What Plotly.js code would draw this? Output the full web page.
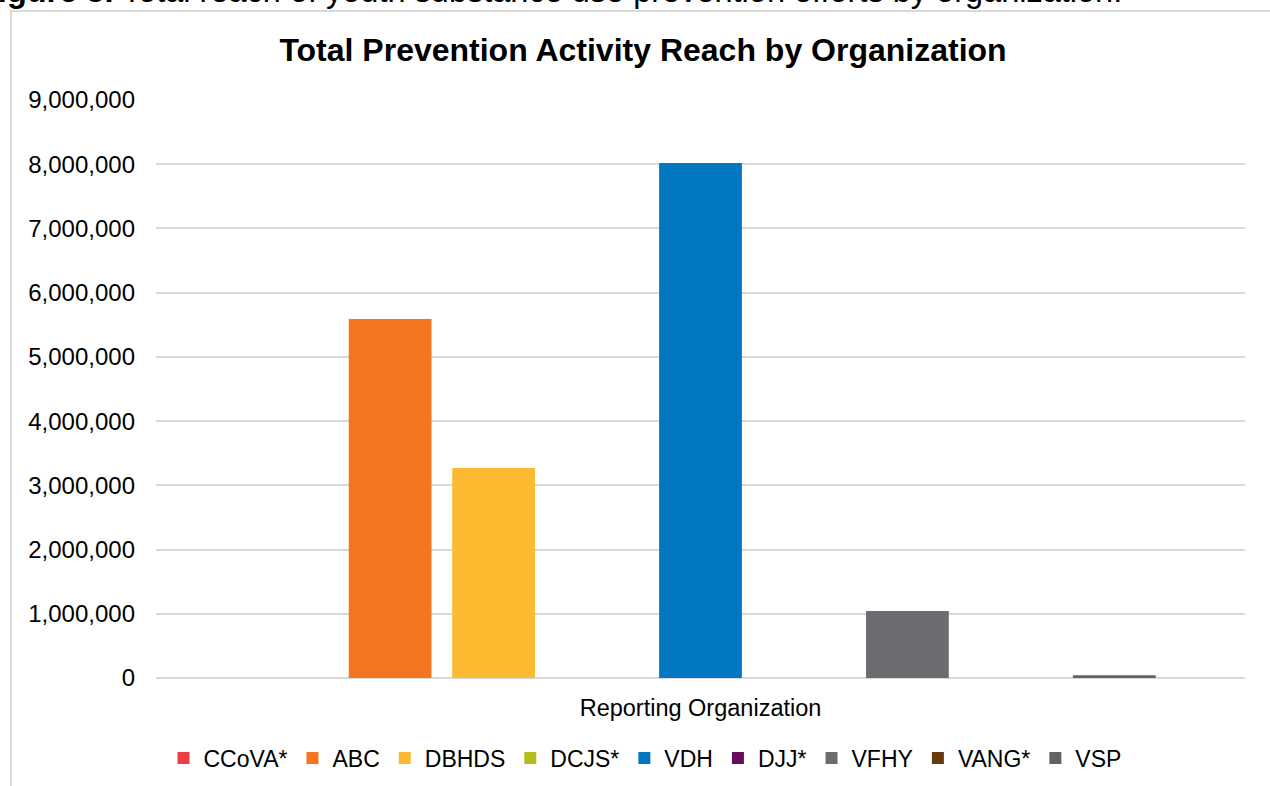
<!DOCTYPE html>
<html>
<head>
<meta charset="utf-8">
<script src="https://cdn.plot.ly/plotly-3.0.1.min.js"></script>
<style>html,body{margin:0;padding:0;background:#fff;}#chart{width:1270px;height:786px;}</style>
</head>
<body>
<div id="chart"></div>
<script>
const category = ["Reporting Organization"];
const organizations = ["CCoVA*", "ABC", "DBHDS", "DCJS*", "VDH", "DJJ*", "VFHY", "VANG*", "VSP"];
const reach = [0, 5590000, 3270000, 0, 8020000, 0, 1045000, 0, 42000];
const colors = ["#EE3E44", "#F47622", "#FDBA31", "#B2BC1B", "#0077C0", "#660E5E", "#6C6C70", "#653A0D", "#636363"];
const yTicks = [0, 1000000, 2000000, 3000000, 4000000, 5000000, 6000000, 7000000, 8000000, 9000000];

const FONT = "Liberation Sans, Arial, sans-serif";
const traces = organizations.map((name, i) => ({
  type: "bar",
  name: name,
  x: category,
  y: [reach[i]],
  marker: {color: colors[i]},
  hoverinfo: "name+y"
}));

const L = 156, R = 1245, T = 100, B = 678;
const W = R - L, H = B - T;
const px = x => (x - L) / W;
const py = y => (B - y) / H;

const layout = {
  width: 1270, height: 786,
  margin: {l: L, r: 1270 - R, t: T, b: 786 - B, pad: 0},
  paper_bgcolor: "#ffffff", plot_bgcolor: "#ffffff",
  font: {family: FONT, color: "#000000", size: 24},
  barmode: "group",
  bargap: 0.145,
  bargroupgap: 0.2,
  title: {
    text: "<b>Total Prevention Activity Reach by Organization</b>",
    font: {family: FONT, size: 32, color: "#000000"},
    x: 643 / 1270, xanchor: "center", xref: "container",
    y: 1 - 50 / 786, yanchor: "middle", yref: "container"
  },
  xaxis: {
    type: "category",
    showgrid: false, zeroline: false, showline: false,
    ticks: "", ticklabelstandoff: 13,
    tickfont: {family: FONT, size: 23.5, color: "#000000"}
  },
  yaxis: {
    range: [0, 9000000],
    tickvals: yTicks,
    tickformat: ",d",
    showgrid: true, gridcolor: "#d9d9d9", gridwidth: 2,
    zeroline: true, zerolinecolor: "#d9d9d9", zerolinewidth: 2,
    showline: false, ticks: "", ticklabelstandoff: 20,
    tickfont: {family: FONT, size: 24, color: "#000000"}
  },
  showlegend: true,
  legend: {
    orientation: "h",
    xref: "container", yref: "container",
    x: 645 / 1270, xanchor: "center",
    y: 1 - 758 / 786, yanchor: "middle",
    font: {family: FONT, size: 23, color: "#000000"},
    itemwidth: 30,
    traceorder: "normal"
  },
  shapes: [
    {type: "line", xref: "paper", yref: "paper", x0: px(11), x1: px(11), y0: py(10), y1: py(790), line: {color: "#d9d9d9", width: 2}},
    {type: "line", xref: "paper", yref: "paper", x0: px(10), x1: px(1275), y0: py(11), y1: py(11), line: {color: "#d9d9d9", width: 2}}
  ],
  annotations: [
    {
      xref: "paper", yref: "paper",
      x: px(-24), xanchor: "left",
      y: py(11), yanchor: "bottom",
      showarrow: false,
      text: "<b>Figure 3.</b> Total reach of youth substance use prevention efforts by organization.",
      font: {family: FONT, size: 32.5, color: "#000000"}
    }
  ]
};

Plotly.newPlot("chart", traces, layout, {displayModeBar: false, responsive: false});
</script>
</body>
</html>
